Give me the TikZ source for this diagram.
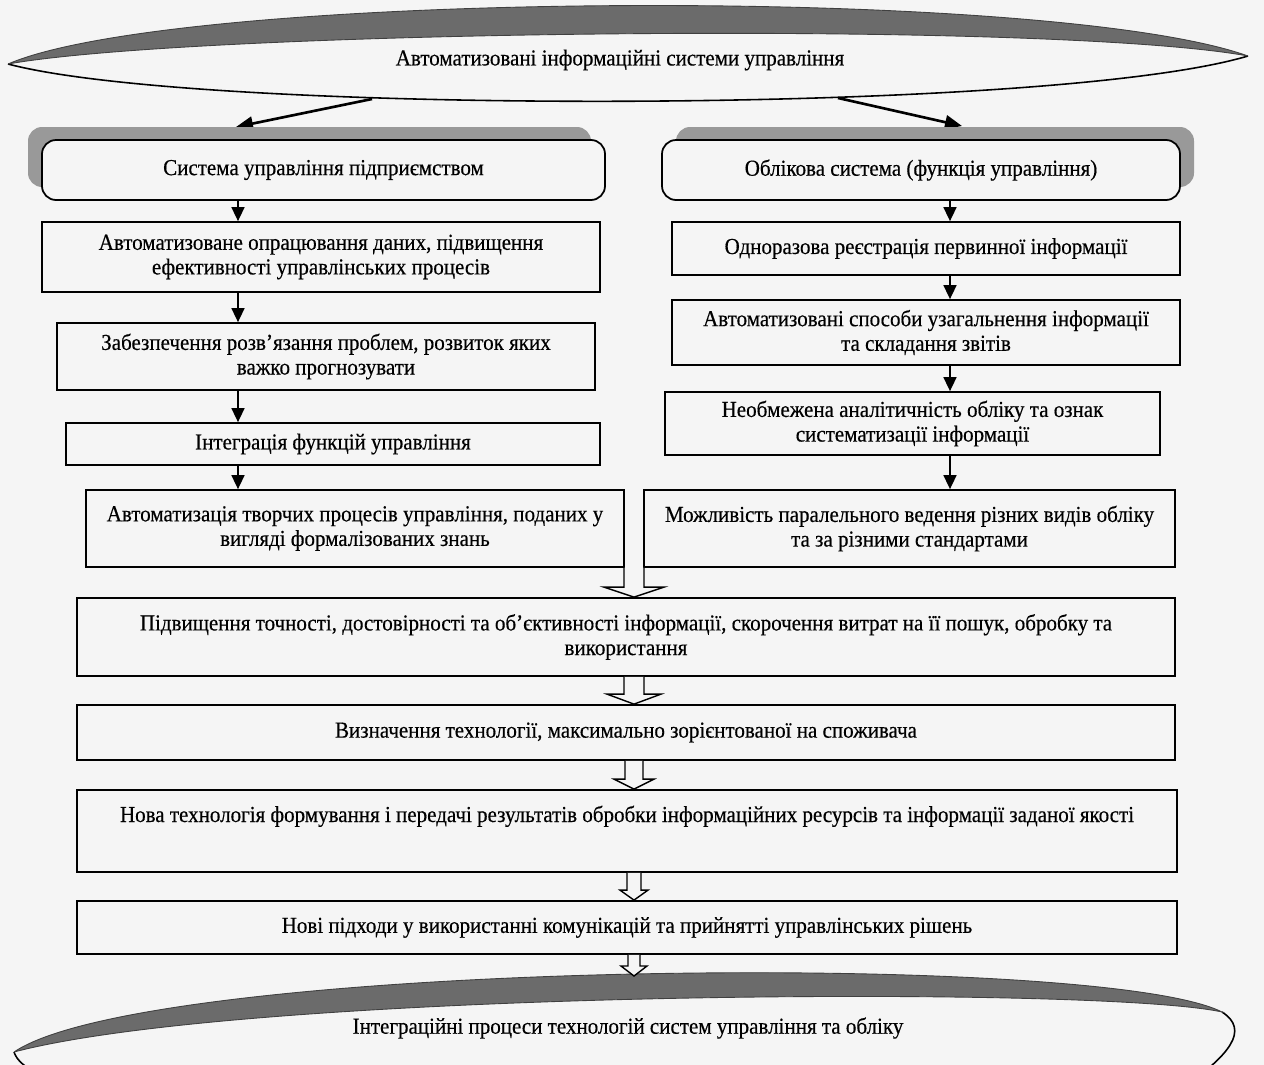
\documentclass[tikz,border=0pt]{standalone}
\usepackage{fontspec}
\setmainfont{Liberation Serif}[FakeStretch=0.92, FakeBold=0.4]
\usetikzlibrary{arrows.meta,calc,shadows}

\tikzset{
  blok/.style 2 args={draw, line width=1pt, fill=black!4, minimum width=#1*0.2mm, minimum height=#2*0.2mm, inner sep=0pt, align=center},
  ten/.style={drop shadow={shadow xshift=#1, shadow yshift=0.26cm, fill=black!40, opacity=1}},
  strilka/.style={line width=0.9pt, -{Triangle[length=2.8mm,width=2.6mm]}},
  vid/.style={line width=1.5pt, -{Triangle[length=3.4mm,width=2.8mm]}},
  strichka/.style={fill=black!58, draw=black!75, line width=0.5pt}
}

% порожня стрілка: початок, кінець, вісь, півширина, півширина вістря
\newcommand{\porozhnia}[5]{%
  \draw[line width=0.8pt, fill=black!4]
    ($(#1 -| #3)+(-#4,0)$) -- ($(#2 -| #3)+(-#4,-10)$) -- ($(#2 -| #3)+(-#5,-10)$) -- (#2 -| #3)
    -- ($(#2 -| #3)+(#5,-10)$) -- ($(#2 -| #3)+(#4,-10)$) -- ($(#1 -| #3)+(#4,0)$);}

\begin{document}
\begin{tikzpicture}[x=0.2mm, y=-0.2mm, font=\fontsize{13}{14}\selectfont]
\useasboundingbox (0,0) rectangle (1264,1065);
\clip (0,0) rectangle (1264,1065);
\fill[black!4] (0,0) rectangle (1264,1065);

%верхня стрічка
\fill[black!4] (8,64) .. controls (200,30) and (1050,20) .. (1248,56) .. controls (1050,115) and (200,115) .. (8,64);
\draw[line width=0.9pt] (8,64) .. controls (200,115) and (1050,115) .. (1248,56);
\draw[strichka] (8,64) .. controls (180,-10) and (1050,-15) .. (1248,56) .. controls (1050,20) and (200,30) .. (8,64);
\node (ais) at (620,60) {Автоматизовані інформаційні системи управління};
\coordinate (zl) at (372,99);
\coordinate (zr) at (838,98);
\coordinate (vl) at (236,127);
\coordinate (vr) at (962,126);
\draw[vid] (zl) -- (vl);
\draw[vid] (zr) -- (vr);

%ліва колонка
\node[blok={563}{60}, rounded corners=8pt, ten=-0.28cm] (sys) at (323.5,170) {Система управління підприємством};
\node[blok={558}{70}] (b2) at (321,257) {Автоматизоване опрацювання даних, підвищення\\ефективності управлінських процесів};
\node[blok={538}{67}] (b3) at (326,356.5) {Забезпечення розв’язання проблем, розвиток яких\\важко прогнозувати};
\node[blok={534}{42}] (b4) at (333,444) {Інтеграція функцій управління};
\node[blok={538}{77}] (b5) at (355,528.5) {Автоматизація творчих процесів управління, поданих у\\вигляді формалізованих знань};

%права колонка
\node[blok={518}{60}, rounded corners=8pt, ten=0.28cm] (obl) at (921,170) {Облікова система (функція управління)};
\node[blok={508}{53}] (r2) at (926,248.5) {Одноразова реєстрація первинної інформації};
\node[blok={508}{65}] (r3) at (926,332.5) {Автоматизовані способи узагальнення інформації\\та складання звітів};
\node[blok={495}{63}] (r4) at (912.5,423.5) {Необмежена аналітичність обліку та ознак\\систематизації інформації};
\node[blok={531}{77}] (r5) at (909.5,528.5) {Можливість паралельного ведення різних видів обліку\\та за різними стандартами};

\coordinate (lv) at (238,0);
\coordinate (pv) at (950,0);
\foreach \a/\b in {sys/b2, b2/b3, b3/b4, b4/b5}
  \draw[strilka] (\a.south -| lv) -- (\b.north -| lv);
\foreach \a/\b in {obl/r2, r2/r3, r3/r4, r4/r5}
  \draw[strilka] (\a.south -| pv) -- (\b.north -| pv);

%нижні блоки
\node[blok={1098}{78}] (pidv) at (626,637) {Підвищення точності, достовірності та об’єктивності інформації, скорочення витрат на її пошук, обробку та\\використання};
\node[blok={1098}{55}] (vyzn) at (626,732.5) {Визначення технології, максимально зорієнтованої на споживача};
\node[blok={1100}{82}, text height=0.3cm, text depth=0.66cm] (nova) at (627,831) {Нова технологія формування і передачі результатів обробки інформаційних ресурсів та інформації заданої якості};
\node[blok={1100}{53}] (novi) at (627,927.5) {Нові підходи у використанні комунікацій та прийнятті управлінських рішень};

%нижня стрічка
\fill[black!4] (14,1052) .. controls (250,990) and (1100,985) .. (1222,1012) .. controls (1250,1030) and (1230,1055) .. (1180,1090) -- (90,1090) .. controls (50,1080) and (20,1070) .. (14,1052);
\draw[line width=0.9pt] (14,1052) .. controls (20,1070) and (50,1080) .. (90,1090);
\draw[line width=0.9pt] (1222,1012) .. controls (1250,1030) and (1230,1055) .. (1180,1090);
\draw[strichka] (14,1052) .. controls (150,960) and (1100,950) .. (1222,1012) .. controls (1100,985) and (250,990) .. (14,1052);
\node (integr) at (628,1028) {Інтеграційні процеси технологій систем управління та обліку};
\coordinate (niz) at (634,976);

%порожні стрілки
\coordinate (os) at (634,0);
\porozhnia{b5.south}{pidv.north}{os}{10}{30}
\porozhnia{pidv.south}{vyzn.north}{os}{10}{27}
\porozhnia{vyzn.south}{nova.north}{os}{9}{20}
\porozhnia{nova.south}{novi.north}{os}{7}{14}
\porozhnia{novi.south}{niz}{os}{6}{13}

\end{tikzpicture}
\end{document}
